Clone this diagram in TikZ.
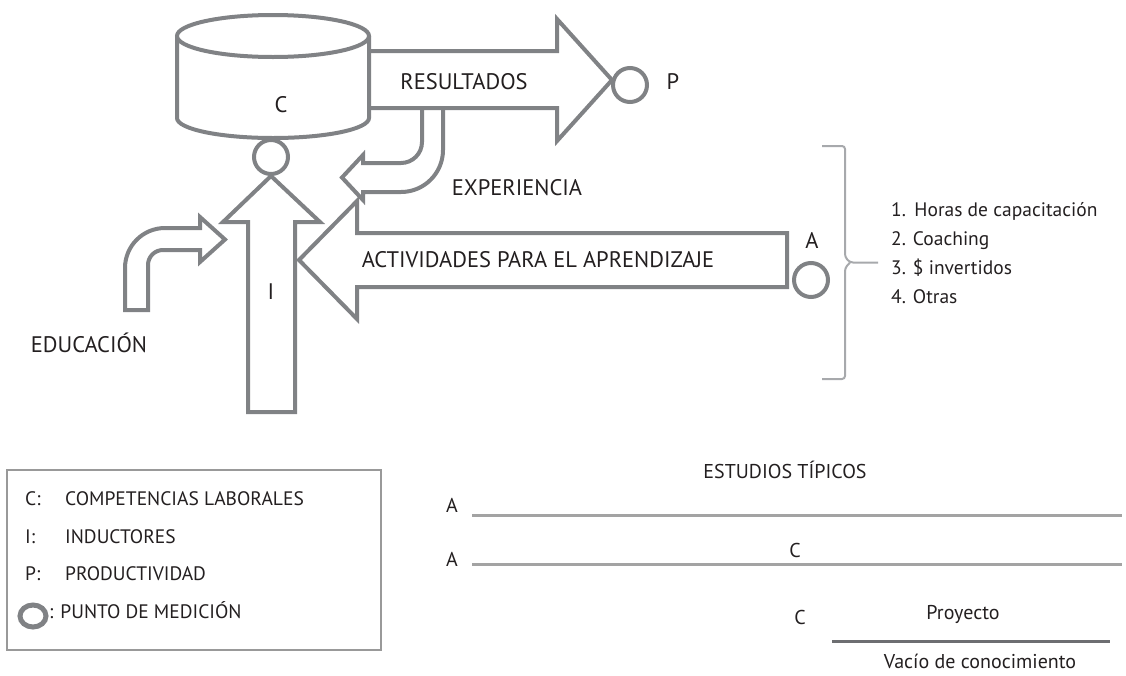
\documentclass[tikz,border=0pt]{standalone}
\usepackage{fontspec}
\setmainfont{PT Sans}
\definecolor{ag}{HTML}{808285}
\definecolor{bg}{HTML}{A7A9AC}
\definecolor{txt}{HTML}{231F20}
\definecolor{rl}{HTML}{A3A3A3}
\definecolor{rd}{HTML}{6D6E71}
\begin{document}
\begin{tikzpicture}[x=1pt,y=-1pt,
  arr/.style={draw=ag, line width=4pt, fill=white, line join=miter},
  cyl/.style={draw=ag, line width=4pt},
  circ/.style={circle, draw=ag, line width=4pt, fill=white, minimum size=34pt, inner sep=0pt},
  big/.style={text=txt, font=\fontsize{22.5}{26}\selectfont, inner sep=0pt},
  leg/.style={text=txt, font=\fontsize{19.5}{22}\selectfont, inner sep=0pt},
  lst/.style={text=txt, font=\fontsize{19.5}{22}\selectfont, inner sep=0pt},
  bot/.style={text=txt, font=\fontsize{20}{23}\selectfont, inner sep=0pt},
  brc/.style={draw=bg, line width=2pt},
  ruleA/.style={draw=rl, line width=3pt},
  ruleB/.style={draw=rd, line width=3pt}]
\useasboundingbox (0,0) rectangle (1126,675);

% EDUCACION bent arrow
\draw[arr] (125,310) -- (125,268) .. controls (125,245.9) and (142.9,228) .. (165,228)
  -- (200,228) -- (200,217) -- (225,239.5) -- (200,262) -- (200,250) -- (163,250)
  .. controls (154.7,250) and (148,256.7) .. (148,265) -- (148,310) -- cycle;
% I up arrow
\draw[arr] (248,412) -- (248,222) -- (223,222) -- (271,176) -- (320,222) -- (295,222) -- (295,412) -- cycle;
% ACTIVIDADES arrow
\draw[arr] (787,233) -- (357,233) -- (357,201) -- (299,260) -- (357,319) -- (357,287) -- (787,287) -- cycle;
% EXPERIENCIA bent arrow
\draw[arr] (422,108) -- (422,142) .. controls (422,153.6) and (412.6,163) .. (401,163)
  -- (363,163) -- (363,155) -- (342,177.5) -- (363,200) -- (363,192) -- (401,192)
  .. controls (424.2,192) and (443,173.2) .. (443,150) -- (443,108);
% RESULTADOS arrow
\draw[arr] (370,51) -- (557,51) -- (557,19) -- (612,80) -- (557,141) -- (557,108) -- (370,108);
% cylinder
\fill[white] (177,36) -- (177,118) .. controls (177,129.05) and (219.98,138) .. (273,138)
  .. controls (326.02,138) and (369,129.05) .. (369,118) -- (369,36) -- cycle;
\draw[cyl] (177,36) -- (177,118) .. controls (177,129.05) and (219.98,138) .. (273,138)
  .. controls (326.02,138) and (369,129.05) .. (369,118) -- (369,36);
\draw[cyl, fill=white] (273,36) ellipse [x radius=96, y radius=21];

% measuring points
\node[circ] (mc) at (271,157) {};
\node[circ] (mp) at (630,85) {};
\node[circ] (ma) at (811,280) {};

% labels
\node[big] (tc) at (281,105) {C};
\node[big] (ti) at (271,292) {I};
\node[big] (tres) at (464,82) {RESULTADOS};
\node[big] (tp) at (673,82) {P};
\node[big] (texp) at (517,188) {EXPERIENCIA};
\node[big] (tact) at (538,260) {ACTIVIDADES PARA EL APRENDIZAJE};
\node[big] (ta) at (812,240) {A};
\node[big] (tedu) at (89,343) {EDUCACIÓN};

% brace
\draw[brc, rounded corners=3pt] (822,146) -- (845,146) -- (845,257) -- (850,262.5) -- (878,262.5);
\draw[brc, rounded corners=3pt] (850,262.5) -- (845,268) -- (845,379) -- (822,379);

% list
\node[lst, anchor=mid west] (i1) at (891,214) {1.\,\ Horas de capacitación};
\node[lst, anchor=mid west] (i2) at (891,243) {2. Coaching};
\node[lst, anchor=mid west] (i3) at (891,272) {3. \$ invertidos};
\node[lst, anchor=mid west] (i4) at (891,301) {4. Otras};

% legend
\draw[draw=gray!80, line width=1.3pt] (7,470) rectangle (381,650);
\node[leg, anchor=mid west] (lc) at (25,503) {C:};
\node[leg, anchor=mid west] (lct) at (65,503) {COMPETENCIAS LABORALES};
\node[leg, anchor=mid west] (li) at (25,541) {I:};
\node[leg, anchor=mid west] (lit) at (65,541) {INDUCTORES};
\node[leg, anchor=mid west] (lp) at (25,578) {P:};
\node[leg, anchor=mid west] (lpt) at (65,578) {PRODUCTIVIDAD};
\draw[draw=ag, line width=5pt] (33,616) ellipse [x radius=13, y radius=11];
\node[leg, anchor=mid west] (lmt) at (49,616) {: PUNTO DE MEDICIÓN};

% estudios tipicos
\node[bot] (et) at (785,470) {ESTUDIOS TÍPICOS};
\node[bot] (a1) at (452,505) {A};
\coordinate (r1a) at (472,515);
\coordinate (r1b) at (1122,515);
\draw[ruleA] (r1a) -- (r1b);
\node[bot] (a2) at (452,559) {A};
\coordinate (r2a) at (472,564);
\coordinate (r2b) at (1122,564);
\draw[ruleA] (r2a) -- (r2b);
\node[bot] (c2) at (795,550) {C};
\node[bot] (c3) at (800,617) {C};
\node[bot, anchor=mid] (pr) at (963,617) {Proyecto};
\coordinate (r3a) at (832,641);
\coordinate (r3b) at (1110,641);
\draw[ruleB] (r3a) -- (r3b);
\node[bot, anchor=mid] (va) at (980,666) {Vacío de conocimiento};
\end{tikzpicture}
\end{document}
